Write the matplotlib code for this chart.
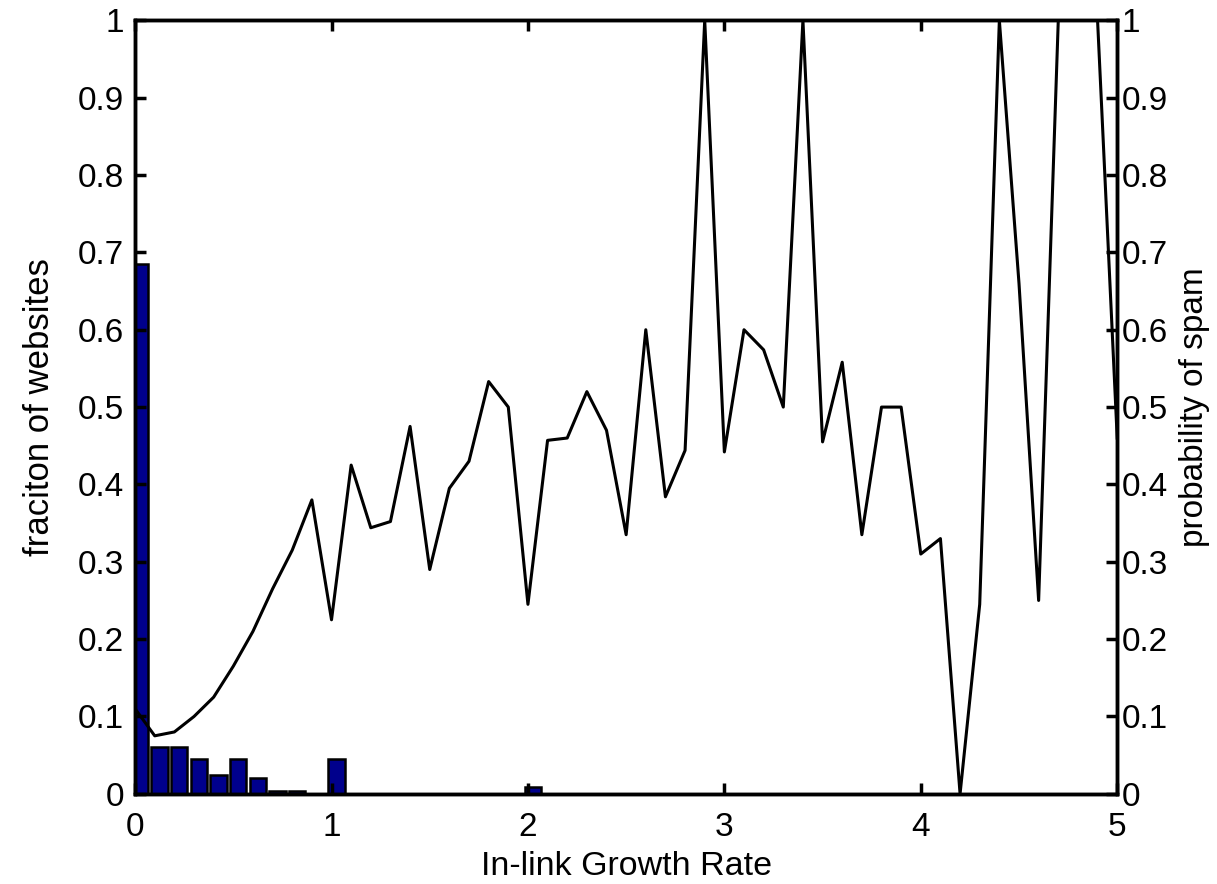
import matplotlib
matplotlib.use("Agg")
import matplotlib.pyplot as plt

plt.rcParams['font.family'] = ['Liberation Sans', 'DejaVu Sans']

# histogram of growth rate (bin width 0.1)
bin_left = [0.1 * k for k in range(50)]
frac = [0.685, 0.061, 0.061, 0.045, 0.024, 0.045, 0.021, 0.004, 0.004, 0.0,
        0.045, 0, 0, 0, 0, 0, 0, 0, 0, 0,
        0.009, 0, 0, 0, 0, 0, 0, 0, 0, 0,
        0, 0, 0, 0, 0, 0, 0, 0, 0, 0,
        0, 0, 0, 0, 0, 0, 0, 0, 0, 0]

# probability of spam
rate = [0.1 * k for k in range(51)]
pspam = [0.11, 0.075, 0.08, 0.10, 0.125, 0.165, 0.21, 0.265, 0.315, 0.38,
         0.225, 0.425, 0.344, 0.352, 0.475, 0.29, 0.395, 0.43, 0.533, 0.50,
         0.245, 0.457, 0.46, 0.52, 0.47, 0.335, 0.60, 0.384, 0.444, 1.0,
         0.442, 0.60, 0.574, 0.50, 1.0, 0.455, 0.558, 0.335, 0.50, 0.50,
         0.31, 0.33, 0.0, 0.245, 1.0, 0.66, 0.25, 1.0, 1.0, 1.0,
         0.46]

yticks = [0, 0.1, 0.2, 0.3, 0.4, 0.5, 0.6, 0.7, 0.8, 0.9, 1]
ylabels = ['0', '0.1', '0.2', '0.3', '0.4', '0.5', '0.6', '0.7', '0.8', '0.9', '1']

fig = plt.figure(figsize=(12.17, 8.84), dpi=100)
ax = fig.add_axes([0.111, 0.102, 0.807, 0.875])

ax.bar([b + 0.025 for b in bin_left], frac, width=0.083, color='#00008c',
       edgecolor='black', linewidth=1.8)
ax.set_xlim(0, 5)
ax.set_ylim(0, 1)
ax.set_yticks(yticks)
ax.set_yticklabels(ylabels)
ax.set_xticks([0, 1, 2, 3, 4, 5])
ax.tick_params(direction='in', length=8, width=2.5, labelsize=24, pad=8,
               top=True, right=False)
ax.tick_params(axis='x', pad=13)
ax.set_xlabel("In-link Growth Rate", fontsize=24.5, labelpad=6)
ax.set_ylabel("fraciton of websites", fontsize=25, labelpad=16)

ax2 = ax.twinx()
ax2.plot(rate, pspam, color='black', linewidth=2.2)
ax2.set_xlim(0, 5)
ax2.set_ylim(0, 1)
ax2.set_yticks(yticks)
ax2.set_yticklabels(ylabels)
ax2.tick_params(direction='in', length=8, width=2.5, labelsize=24, pad=3)
ax2.set_ylabel("probability of spam", fontsize=24, labelpad=8)

for a in (ax, ax2):
    for s in a.spines.values():
        s.set_linewidth(2.5)

plt.savefig("out.png")
